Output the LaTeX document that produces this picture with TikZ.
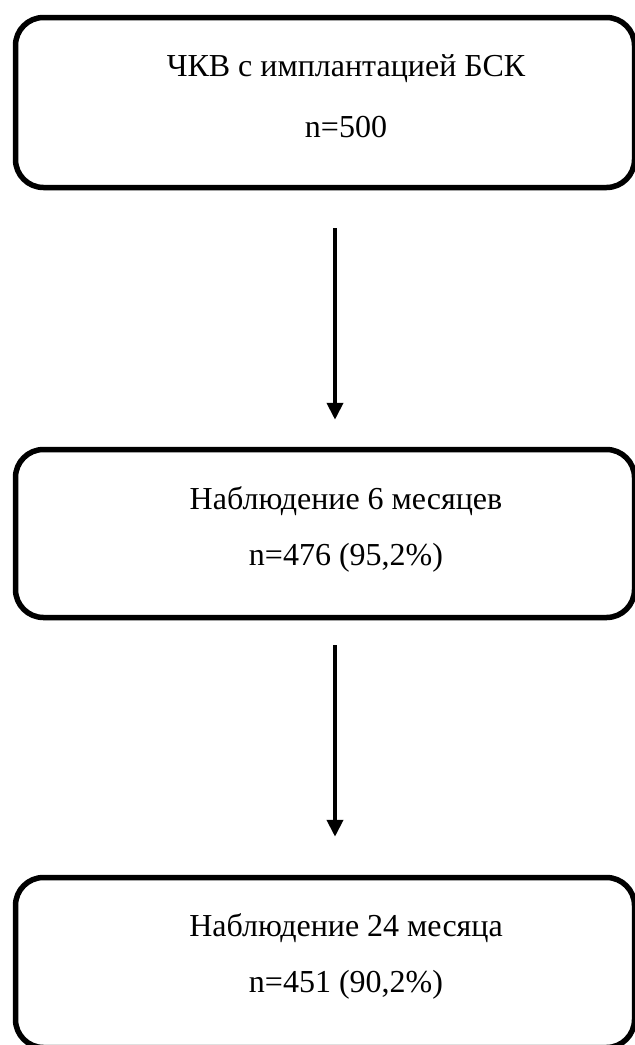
\documentclass[tikz,border=0pt]{standalone}
\usepackage{fontspec}
\setmainfont{Liberation Serif}
\usetikzlibrary{arrows.meta,shadows}
\begin{document}
\begin{tikzpicture}[x=1pt,y=-1pt,
  flowbox/.style={draw=black, line width=5.5pt, rounded corners=28pt, fill=white,
    minimum width=619pt, inner sep=0pt,
    drop shadow={opacity=0.25, shadow xshift=1.5pt, shadow yshift=-2.5pt}},
  boxtext/.style={align=center, font=\fontsize{32}{56}\selectfont, inner sep=0pt},
  arr/.style={line width=4pt, -{Triangle[width=16pt,length=17pt]}}]
\useasboundingbox (0,0) rectangle (635,1045);
\node[flowbox, minimum height=170pt] (b1) at (325,102.5) {};
\node[flowbox, minimum height=168pt] (b2) at (325,533.5) {};
\node[flowbox, minimum height=170pt] (b3) at (325,962.5) {};
\node[boxtext, font=\fontsize{32}{61}\selectfont] (t1) at (346,96) {ЧКВ с имплантацией БСК\\n=500};
\node[boxtext] (t2) at (346,529) {Наблюдение 6 месяцев\\n=476 (95,2\%)};
\node[boxtext] (t3) at (346,956) {Наблюдение 24 месяца\\n=451 (90,2\%)};
\draw[arr] ([xshift=10pt,yshift=-38pt]b1.south) -- ([xshift=10pt,yshift=27pt]b2.north);
\draw[arr] ([xshift=10pt,yshift=-25pt]b2.south) -- ([xshift=10pt,yshift=38pt]b3.north);
\end{tikzpicture}
\end{document}
